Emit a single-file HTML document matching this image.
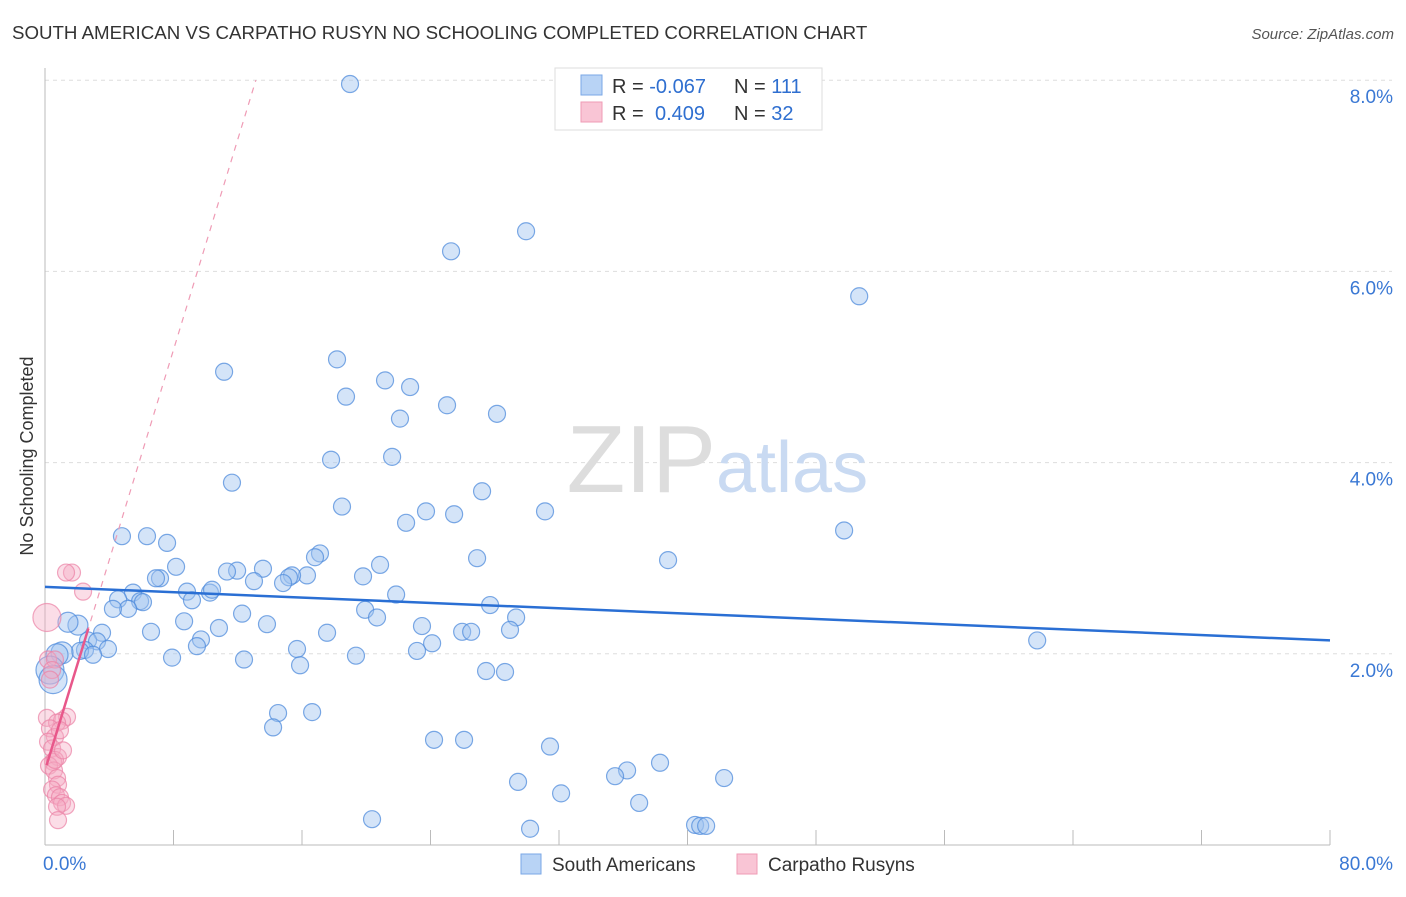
<!DOCTYPE html>
<html><head><meta charset="utf-8"><style>
body{margin:0;background:#fff;font-family:"Liberation Sans",sans-serif}
svg text{font-family:"Liberation Sans",sans-serif}
</style></head><body>
<svg id="chart" width="1406" height="892">
<text x="12" y="39" font-size="18.7" fill="#333">SOUTH AMERICAN VS CARPATHO RUSYN NO SCHOOLING COMPLETED CORRELATION CHART</text>
<text x="1394" y="39" font-size="15" fill="#555" text-anchor="end" font-style="italic">Source: ZipAtlas.com</text>
<text transform="translate(33,456) rotate(-90)" font-size="18" fill="#333" text-anchor="middle">No Schooling Completed</text>
<g id="grid"></g>
<text x="716" y="492" font-size="96" fill="#ddd" text-anchor="end" font-family="Liberation Serif">ZIP</text>
<text x="716" y="492" font-size="72" fill="#c9daf2">atlas</text>
<g id="marks"></g>
<g>
<rect x="555" y="68" width="267" height="62" fill="#fff" stroke="#ddd"/>
<rect x="581" y="75" width="21" height="20" fill="#b8d3f5" stroke="#7aa7e6"/>
<rect x="581" y="102" width="21" height="20" fill="#f9c5d5" stroke="#ef9bb5"/>
<text x="612" y="93" font-size="20" fill="#333">R = <tspan fill="#2f6fd0">-0.067</tspan></text>
<text x="734" y="93" font-size="20" fill="#333">N = <tspan fill="#2f6fd0">111</tspan></text>
<text x="612" y="120" font-size="20" fill="#333">R = <tspan fill="#2f6fd0" x="655">0.409</tspan></text>
<text x="734" y="120" font-size="20" fill="#333">N = <tspan fill="#2f6fd0">32</tspan></text>
</g>
<g>
<rect x="521" y="854" width="20" height="20" fill="#b8d3f5" stroke="#7aa7e6"/>
<text x="552" y="871" font-size="19" fill="#333">South Americans</text>
<rect x="737" y="854" width="20" height="20" fill="#f9c5d5" stroke="#ef9bb5"/>
<text x="768" y="871" font-size="19" fill="#333">Carpatho Rusyns</text>
</g>
</svg>
<script>
const blueX=[18.99,29.95,25.28,50.69,18.18,11.15,21.17,22.73,18.74,25.03,28.14,22.10,17.81,21.61,11.64,27.21,18.49,31.13,23.72,25.47,22.48,49.75,4.79,6.35,7.60,17.12,16.81,26.90,38.79,20.86,8.16,13.57,11.96,11.33,7.16,6.91,19.80,16.31,15.38,15.19,13.01,14.82,8.84,10.27,5.48,10.40,9.15,21.86,4.55,5.92,6.10,5.17,4.23,27.71,19.93,12.27,20.67,29.33,8.66,13.82,2.05,1.43,3.55,10.83,23.47,6.60,17.56,25.97,26.53,28.95,2.68,3.24,9.71,24.10,61.77,15.69,2.49,2.18,3.92,9.46,23.16,1.06,0.75,2.99,19.36,7.91,12.39,15.88,27.46,28.64,0.31,0.50,14.51,16.63,14.20,24.22,26.09,31.44,38.29,36.24,35.49,42.28,29.45,32.13,36.99,20.36,30.20,40.47,40.79,41.16];
const blueY=[7.96,6.42,6.21,5.74,5.08,4.95,4.86,4.79,4.69,4.60,4.51,4.46,4.03,4.06,3.79,3.70,3.54,3.49,3.49,3.46,3.37,3.29,3.23,3.23,3.16,3.05,3.01,3.00,2.98,2.93,2.91,2.89,2.87,2.86,2.79,2.79,2.81,2.82,2.82,2.80,2.76,2.74,2.65,2.64,2.64,2.67,2.56,2.62,2.57,2.55,2.54,2.47,2.47,2.51,2.46,2.42,2.38,2.38,2.34,2.31,2.30,2.33,2.22,2.27,2.29,2.23,2.22,2.23,2.23,2.25,2.14,2.13,2.15,2.11,2.14,2.05,2.04,2.03,2.05,2.08,2.03,2.01,1.99,1.99,1.98,1.96,1.94,1.88,1.82,1.81,1.83,1.73,1.38,1.39,1.23,1.10,1.10,1.03,0.86,0.78,0.72,0.70,0.66,0.54,0.44,0.27,0.17,0.21,0.20,0.20];
const pinkX=[1.68,1.31,2.37,0.12,0.19,0.62,0.44,0.31,1.37,0.12,1.06,0.75,0.31,0.62,0.19,0.44,0.81,0.50,0.25,0.56,0.75,0.81,0.44,0.68,0.93,1.06,1.31,0.75,0.81,0.62,1.12,0.93];
const pinkY=[2.85,2.85,2.65,2.38,1.94,1.94,1.83,1.73,1.34,1.33,1.30,1.28,1.22,1.13,1.08,1.01,0.92,0.87,0.83,0.78,0.70,0.63,0.58,0.52,0.50,0.44,0.41,0.40,0.26,0.89,0.99,1.20];
const blueTrend=[2.70,2.14];
const pinkTrend=[0.78,0.55];
const yTicks=[2,4,6,8];
const xTickLabels=["0.0%","80.0%"];
const X0=45,X1=1330,Y0=845,PY=95.6;
const sx=v=>X0+v/80*(X1-X0), sy=v=>Y0-v*PY;
const NS="http://www.w3.org/2000/svg";
function mk(t,a,p){const e=document.createElementNS(NS,t);for(const k in a)e.setAttribute(k,a[k]);p.appendChild(e);return e;}
const g=document.getElementById('grid'),m=document.getElementById('marks');
yTicks.forEach(t=>{
 const l=mk('line',{x1:X0,x2:1392,y1:sy(t),y2:sy(t),stroke:'#ddd','stroke-dasharray':'4,4'},g);
 
 
 const tx=mk('text',{x:1393,y:sy(t)+23,'font-size':19,fill:'#3a78d4','text-anchor':'end'},g);
 tx.textContent=t.toFixed(1)+'%';
 
 
});
const ax=mk('line',{x1:X0,x2:X0,y1:68,y2:Y0,stroke:'#bbb'},g);


const bx=mk('line',{x1:X0,x2:X1,y1:Y0,y2:Y0,stroke:'#bbb'},g);


for(let i=1;i<=10;i++){const tk=mk('line',{x1:sx(i*8),x2:sx(i*8),y1:Y0-15,y2:Y0,stroke:'#bbb'},g);
 
 }
[[0,'start',X0-2],[80,'end',1393]].forEach((d,i)=>{const tx=mk('text',{x:d[2],y:870,'font-size':19,fill:'#3a78d4','text-anchor':d[1]},g);tx.textContent=xTickLabels[i];
 
 });
blueX.forEach((x,i)=>{const big=(x<0.6&&blueY[i]<1.9)?14:((x<1.2&&blueY[i]<2.05)?11:(x<2.2&&blueY[i]>2.2&&blueY[i]<2.4?10:8.5));
 const c=mk('circle',{cx:sx(x),cy:sy(blueY[i]),r:big,fill:'rgba(160,196,240,0.45)',stroke:'rgba(80,140,220,0.75)','stroke-width':1.2},m);
 
 });
pinkX.forEach((x,i)=>{const r=(i===3)?14:8.5;
 const c=mk('circle',{cx:sx(x),cy:sy(pinkY[i]),r:r,fill:'rgba(245,170,195,0.4)',stroke:'rgba(235,130,165,0.7)','stroke-width':1.2},m);
 
 });
const bl=mk('line',{x1:sx(0),y1:sy(blueTrend[0]),x2:sx(80),y2:sy(blueTrend[1]),stroke:'#2a6fd4','stroke-width':2.5},m);


const xEnd=(8-pinkTrend[0])/pinkTrend[1];
const pd=mk('line',{x1:sx(0),y1:sy(pinkTrend[0]),x2:sx(xEnd),y2:sy(8),stroke:'#ef9bb5','stroke-width':1.2,'stroke-dasharray':'6,6'},m);


const pl=mk('line',{x1:sx(0.1),y1:sy(pinkTrend[0]+pinkTrend[1]*0.1),x2:sx(2.7),y2:sy(pinkTrend[0]+pinkTrend[1]*2.7),stroke:'#e8578a','stroke-width':2.5},m);


</script>
</body></html>
